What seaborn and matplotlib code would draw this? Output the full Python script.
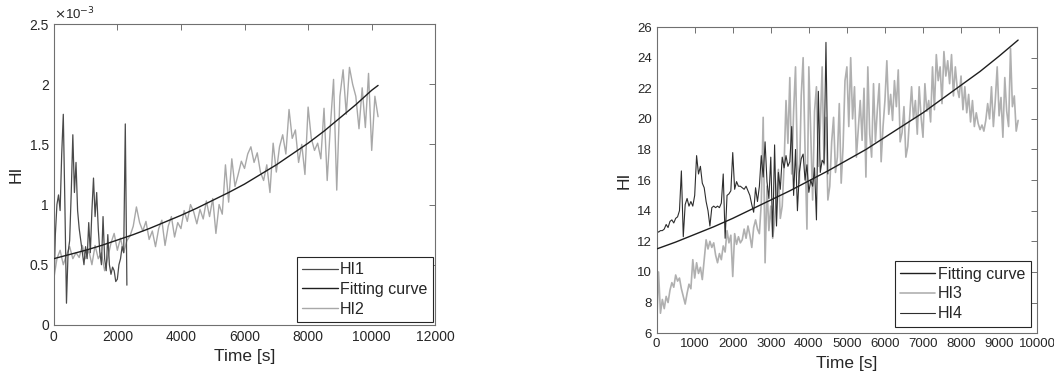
"""
Health indicator curves with fitted trends (two panels).
"""

import matplotlib
matplotlib.use("Agg")
import matplotlib.pyplot as plt
import seaborn as sns
import numpy as np
from matplotlib.ticker import FuncFormatter

# ---- left panel data (HI values in units of 1e-3) ----
hi1_step = 50
hi1 = [0.25, 0.75, 1.0, 1.08, 0.95, 1.42, 1.75, 1.0, 0.18, 0.6,
       0.7, 1.1, 1.58, 1.1, 1.35, 0.95, 0.8, 0.7, 0.6, 0.5,
       0.65, 0.55, 0.85, 0.6, 0.95, 1.22, 0.9, 1.1, 0.8, 0.6,
       0.5, 0.9, 0.55, 0.45, 0.75, 0.5, 0.42, 0.48, 0.45, 0.36,
       0.38, 0.5, 0.55, 0.65, 0.6, 1.67, 0.33]

hi2_step = 100
hi2 = [0.38, 0.55, 0.62, 0.5, 0.58, 0.65, 0.55, 0.6, 0.56, 0.66,
       0.55, 0.62, 0.5, 0.66, 0.55, 0.6, 0.45, 0.56, 0.68, 0.76,
       0.62, 0.72, 0.6, 0.7, 0.74, 0.82, 0.98, 0.85, 0.78, 0.86,
       0.71, 0.78, 0.65, 0.8, 0.87, 0.66, 0.82, 0.9, 0.73, 0.85,
       0.8, 0.95, 0.86, 1.0, 0.94, 0.84, 0.96, 0.88, 1.03, 0.9,
       1.05, 0.76, 1.0, 0.92, 1.33, 1.02, 1.38, 1.15, 1.25, 1.36,
       1.3, 1.42, 1.48, 1.35, 1.43, 1.27, 1.2, 1.33, 1.1, 1.51,
       1.27, 1.48, 1.58, 1.42, 1.79, 1.55, 1.62, 1.35, 1.5, 1.25,
       1.81, 1.55, 1.45, 1.51, 1.38, 1.8, 1.2, 1.65, 2.04, 1.12,
       1.9, 2.12, 1.75, 2.14, 2.0, 1.9, 1.63, 1.97, 1.64, 2.09,
       1.45, 1.9, 1.73]

fit1_t = [0, 500, 1000, 1500, 2000, 2500, 3000, 3500, 4000, 4500, 5000,
          5500, 6000, 6500, 7000, 7500, 8000, 8500, 9000, 9500, 10000, 10200]
fit1 = [0.55, 0.585, 0.62, 0.66, 0.705, 0.75, 0.80, 0.855, 0.91, 0.97, 1.035,
        1.10, 1.17, 1.25, 1.33, 1.42, 1.51, 1.61, 1.72, 1.83, 1.95, 1.99]

# ---- right panel data ----
hi3_step = 50
hi3 = [6.5, 10.0, 7.3, 8.2, 7.6, 8.4, 8.0, 8.8, 9.3, 9.0,
       9.8, 9.4, 9.6, 8.9, 8.4, 7.9, 8.6, 9.2, 8.9, 10.8,
       9.6, 10.6, 9.9, 10.3, 9.5, 10.8, 12.1, 11.5, 12.0, 11.6,
       11.9, 11.1, 10.6, 11.2, 10.8, 11.7, 11.3, 12.7, 11.9, 12.4,
       9.7, 12.5, 11.8, 12.3, 11.9, 12.1, 12.8, 12.2, 13.0, 12.4,
       11.6, 12.9, 13.4, 12.8, 12.5, 14.5, 20.1, 10.6, 15.6, 12.7,
       14.3, 12.2, 13.4, 15.0, 16.7, 13.5, 14.3, 17.0, 21.2, 18.4,
       22.7, 16.4, 20.5, 23.4, 17.0, 15.8, 21.5, 24.0, 18.0, 12.8,
       23.4, 19.0, 14.7, 20.5, 22.1, 16.9, 19.5, 23.4, 17.0, 20.1,
       14.7, 15.6, 18.5, 20.1, 16.5, 17.5, 21.0, 15.8, 18.2, 22.5,
       23.4, 19.5, 24.0, 20.0, 22.1, 17.5, 19.3, 21.2, 18.6, 22.0,
       16.2, 23.4, 19.0, 17.5, 22.3, 18.5, 20.6, 22.3, 17.2, 19.5,
       21.2, 23.8, 20.3, 21.6, 19.9, 22.5, 20.8, 23.2, 18.5, 19.1,
       20.8, 17.5, 18.2, 20.1, 22.1, 20.0, 21.2, 19.0, 22.1, 20.1,
       18.8, 22.3, 20.5, 21.2, 19.8, 23.4, 20.6, 24.2, 22.5, 23.4,
       21.0, 24.4, 22.8, 23.8, 22.3, 24.2, 21.5, 23.4, 22.0, 21.4,
       22.8, 20.6, 22.1, 20.4, 21.6, 19.8, 21.2, 19.5, 20.4, 19.7,
       19.3, 19.6, 19.2, 19.9, 21.0, 20.0, 22.1, 19.5, 21.2, 23.4,
       20.2, 21.4, 18.8, 22.7, 20.5, 19.5, 24.6, 20.8, 21.5, 19.2,
       19.9]

hi4_step = 50
hi4 = [12.7, 12.6, 12.7, 12.7, 12.8, 13.1, 12.9, 13.3, 13.4, 13.2,
       13.5, 13.6, 14.0, 16.6, 12.3, 14.4, 14.8, 14.3, 14.6, 14.3,
       15.0, 17.6, 16.4, 16.9, 15.8, 15.5, 14.6, 14.0, 13.0, 14.2,
       14.3, 14.2, 14.3, 14.2, 14.5, 16.4, 12.2, 15.0, 15.1, 15.3,
       17.8, 15.4, 15.9, 15.6, 15.6, 15.5, 15.4, 15.6, 15.3, 15.0,
       14.4, 13.9, 15.5, 14.6, 15.6, 17.6, 16.2, 18.5, 15.9, 14.8,
       17.5, 12.3, 18.3, 13.0, 16.5, 15.4, 17.5, 16.8, 17.6, 16.9,
       17.2, 19.5, 15.0, 18.0, 14.0, 16.5, 17.4, 17.7, 16.0, 17.0,
       15.2, 16.0, 15.6, 16.8, 13.4, 21.8, 16.5, 17.3, 17.1, 25.0,
       16.4]

fit2_t = [0, 500, 1000, 1500, 2000, 2500, 3000, 3500, 4000, 4500,
          5000, 5500, 6000, 6500, 7000, 7500, 8000, 8500, 9000, 9500]
fit2 = [11.5, 11.95, 12.45, 12.95, 13.5, 14.1, 14.7, 15.3, 15.95, 16.6,
        17.3, 18.0, 18.8, 19.6, 20.4, 21.3, 22.2, 23.1, 24.1, 25.15]


def style_axes(ax):
    """MATLAB-like boxed axes with inward ticks."""
    for s in ax.spines.values():
        s.set_visible(True)
        s.set_color('#707070')
        s.set_linewidth(0.8)
    ax.tick_params(direction='in', top=True, right=True, length=4,
                   width=0.7, color='#707070', labelsize=10,
                   labelcolor='#262626')


def add_legend(ax, names, pad):
    h, l = ax.get_legend_handles_labels()
    order = [l.index(n) for n in names]
    leg = ax.legend([h[i] for i in order], [l[i] for i in order],
                    loc='lower right', fontsize=11.5, frameon=True,
                    fancybox=False, edgecolor='#262626', framealpha=1,
                    handlelength=2.2, handletextpad=0.15, borderpad=0.35,
                    labelspacing=0.3, borderaxespad=pad)
    leg.get_frame().set_linewidth(0.8)
    return leg


sns.set_theme(style="white")
plt.rcParams['font.family'] = ['Liberation Sans', 'DejaVu Sans']

fig = plt.figure(figsize=(10.54, 3.76), dpi=100)
ax1 = fig.add_axes([0.051, 0.136, 0.362, 0.80])
ax2 = fig.add_axes([0.623, 0.114, 0.361, 0.814])

# Left panel
t_hi1 = np.arange(len(hi1)) * hi1_step
t_hi2 = np.arange(len(hi2)) * hi2_step
sns.lineplot(x=t_hi2, y=hi2, ax=ax1, color='#a8a8a8', linewidth=1.0,
             label='HI2', zorder=1)
sns.lineplot(x=t_hi1, y=hi1, ax=ax1, color='#4a4a4a', linewidth=0.9,
             label='HI1', zorder=2)
sns.lineplot(x=fit1_t, y=fit1, ax=ax1, color='#1e1e1e', linewidth=1.0,
             label='Fitting curve', zorder=3)
ax1.set_xlim(0, 12000)
ax1.set_ylim(0, 2.5)
ax1.set_xticks(np.arange(0, 12001, 2000))
ax1.set_yticks([0, 0.5, 1, 1.5, 2, 2.5])
ax1.yaxis.set_major_formatter(FuncFormatter(lambda v, p: f'{v:g}'))
ax1.set_xlabel('Time [s]', fontsize=12.5, color='#262626')
ax1.set_ylabel('HI', fontsize=12.5, color='#262626')
ax1.text(0.0, 1.005, r'$\times$10$^{-3}$', transform=ax1.transAxes,
         ha='left', va='bottom', fontsize=9.5, color='#262626')
style_axes(ax1)
add_legend(ax1, ['HI1', 'Fitting curve', 'HI2'], 0.15)

# Right panel
t_hi3 = np.arange(len(hi3)) * hi3_step
t_hi4 = np.arange(len(hi4)) * hi4_step
sns.lineplot(x=t_hi3, y=hi3, ax=ax2, color='#b0b0b0', linewidth=1.2,
             label='HI3', zorder=1)
sns.lineplot(x=t_hi4, y=hi4, ax=ax2, color='#2e2e2e', linewidth=0.8,
             label='HI4', zorder=2)
sns.lineplot(x=fit2_t, y=fit2, ax=ax2, color='#1e1e1e', linewidth=1.0,
             label='Fitting curve', zorder=3)
ax2.set_xlim(0, 10000)
ax2.set_ylim(6, 26)
ax2.set_xticks(np.arange(0, 10001, 1000))
ax2.set_yticks(np.arange(6, 27, 2))
ax2.set_xlabel('Time [s]', fontsize=12.5, color='#262626')
ax2.set_ylabel('HI', fontsize=12.5, color='#262626')
style_axes(ax2)
ax2.tick_params(labelsize=9.5)
add_legend(ax2, ['Fitting curve', 'HI3', 'HI4'], 0.4)

fig.savefig('out.png', dpi=100)
